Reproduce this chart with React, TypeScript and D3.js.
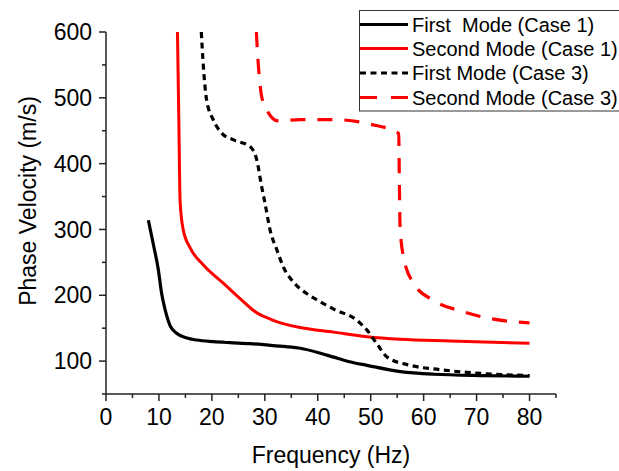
import React from "react";
import * as d3 from "d3";

const firstCase1F = [8.0, 8.9, 9.9, 10.5, 11.2, 12.1, 13.4, 15.3, 17.1, 20.3, 23.4, 27.2, 30.4, 34, 36.7, 40.5, 43, 46, 49.3, 55.6, 61.9, 71.3, 80];
const firstCase1V = [314, 279, 238, 203, 177, 154, 142, 135, 132, 129.5, 128, 126.5, 124.5, 122, 119.5, 112, 106, 99, 93.5, 84, 80, 78, 77];

const secondCase1F = [13.5, 13.75, 14.0, 14.6, 15.9, 18.4, 22.2, 26, 28, 31.6, 36.7, 43, 49.3, 55.6, 65, 80];
const secondCase1V = [600, 470, 342, 299, 272, 246, 218, 190, 176, 162, 151, 144, 137, 133, 130.5, 127];

const firstCase3F = [18, 18.4, 19, 20.3, 21.9, 24.1, 27.2, 28.5, 29.4, 30.1, 31, 32.3, 33.5, 35.4, 37.9, 40.5, 43, 47.4, 49.3, 51.2, 53.1, 57.5, 63.1, 71.3, 80];
const firstCase3V = [600, 547, 497, 466, 446, 436, 426, 405, 365, 337, 299, 268.5, 243, 220, 202.6, 190, 179, 162, 147, 126, 106, 93.5, 87, 81, 78];

const secondCase3F = [28.4, 28.8, 29.4, 30.4, 32.5, 36.7, 43, 49.9, 55.3, 55.4, 55.55, 56.2, 58.1, 61.9, 67.5, 72, 80];
const secondCase3V = [600, 547, 502, 481, 465, 467, 467, 460, 446, 380, 304, 258, 218, 192, 175, 165.5, 158];

const xMajorTicks = [0, 10, 20, 30, 40, 50, 60, 70, 80];
const xMinorTicks = [5, 15, 25, 35, 45, 55, 65, 75, 85];
const yMajorTicks = [100, 200, 300, 400, 500, 600];
const yMinorTicks = [50, 150, 250, 350, 450, 550];

const legendLabels = ["First  Mode (Case 1)", "Second Mode (Case 1)", "First Mode (Case 3)", "Second Mode (Case 3)"];

const W = 619;
const H = 471;
const FONT = "'Liberation Sans', Arial, sans-serif";

export default function App() {
  const x = d3.scaleLinear().domain([0, 85]).range([106, 556]);
  const y = d3.scaleLinear().domain([50, 600]).range([394, 32]);

  const line = d3
    .line<[number, number]>()
    .x((d) => x(d[0]))
    .y((d) => y(d[1]))
    .curve(d3.curveMonotoneX);

  const zip = (f: number[], v: number[]) => f.map((ff, i) => [ff, v[i]] as [number, number]);

  const series = [
    { data: zip(firstCase1F, firstCase1V), color: "#000", dash: undefined as string | undefined, w: 3.2 },
    { data: zip(secondCase1F, secondCase1V), color: "#ff0000", dash: undefined, w: 3 },
    { data: zip(firstCase3F, firstCase3V), color: "#000", dash: "6 4.5", w: 3.2 },
    { data: zip(secondCase3F, secondCase3V), color: "#ff0000", dash: "15 12", w: 3.2 },
  ];

  const legendY = [24.5, 48.5, 73, 97.5];

  return (
    <svg width={W} height={H} style={{ position: "absolute", left: 0, top: 0, background: "#fff" }}>
      {series.map((s, i) => (
        <path
          key={i}
          d={line(s.data) || ""}
          fill="none"
          stroke={s.color}
          strokeWidth={s.w}
          strokeDasharray={s.dash}
          strokeLinejoin="round"
        />
      ))}

      <g stroke="#222" strokeWidth={1.5}>
        <line x1={x(0)} x2={x(0)} y1={y(600)} y2={y(50)} />
        <line x1={x(0)} x2={x(85)} y1={y(50)} y2={y(50)} />
        {xMajorTicks.map((t) => (
          <line key={"xM" + t} x1={x(t)} x2={x(t)} y1={y(50)} y2={y(50) + 7} />
        ))}
        {xMinorTicks.map((t) => (
          <line key={"xm" + t} x1={x(t)} x2={x(t)} y1={y(50)} y2={y(50) + 4} />
        ))}
        {yMajorTicks.map((t) => (
          <line key={"yM" + t} x1={x(0) - 7} x2={x(0)} y1={y(t)} y2={y(t)} />
        ))}
        {yMinorTicks.map((t) => (
          <line key={"ym" + t} x1={x(0) - 4} x2={x(0)} y1={y(t)} y2={y(t)} />
        ))}
      </g>

      <g fontFamily={FONT} fontSize={23} fill="#000">
        {xMajorTicks.map((t) => (
          <text key={"xl" + t} x={x(t)} y={425} textAnchor="middle">
            {t}
          </text>
        ))}
        {yMajorTicks.map((t) => (
          <text key={"yl" + t} x={92} y={y(t) + 8.2} textAnchor="end">
            {t}
          </text>
        ))}
        <text x={331} y={463} textAnchor="middle">
          Frequency (Hz)
        </text>
        <text transform={`translate(36,201) rotate(-90)`} textAnchor="middle">
          Phase Velocity (m/s)
        </text>
      </g>

      <rect x={359.5} y={10.5} width={280} height={100.5} fill="#fff" stroke="#333" strokeWidth={1} />
      {series.map((s, i) => (
        <g key={"lg" + i}>
          <line
            x1={360}
            x2={408}
            y1={legendY[i]}
            y2={legendY[i]}
            stroke={s.color}
            strokeWidth={s.w}
            strokeDasharray={s.dash === "15 12" ? "17 14" : s.dash}
          />
          <text
            x={412}
            y={legendY[i] + 7}
            fontFamily={FONT}
            fontSize={20}
            fill="#000"
            style={{ whiteSpace: "pre" }}
          >
            {legendLabels[i]}
          </text>
        </g>
      ))}
    </svg>
  );
}
